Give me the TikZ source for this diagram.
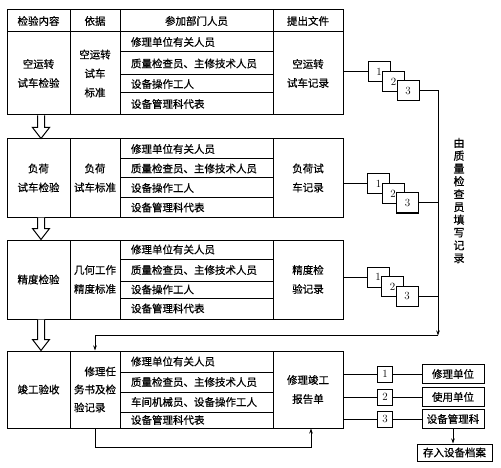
\documentclass[tikz,border=0pt]{standalone}
\usepackage{fontspec}
\newfontfamily\cjk{Noto Sans CJK SC}[FakeBold=0.6]
\usetikzlibrary{calc,arrows.meta}

\tikzset{
  line/.style={line width=1pt},
  cell/.style={draw, line width=1pt, inner sep=0pt, align=center,
    font=\cjk\fontsize{10.5}{19}\selectfont},
  staff/.style={draw, line width=1pt, minimum width=153pt, text width=131pt,
    inner xsep=11pt, inner ysep=0pt, align=left, font=\cjk\fontsize{10.5}{13}\selectfont},
  doc/.style={draw, fill=white, line width=1pt, minimum width=22pt,
    minimum height=20pt, inner sep=0pt, font=\fontsize{11}{13}\selectfont},
  num/.style={draw, line width=1pt, minimum width=15pt, minimum height=16pt,
    inner sep=0pt, font=\fontsize{11}{13}\selectfont},
  dest/.style={draw, line width=1pt, minimum width=62pt, minimum height=19pt,
    inner sep=0pt, font=\cjk\fontsize{10.5}{13}\selectfont},
  note/.style={align=center, inner sep=0pt, font=\cjk\fontsize{11}{12.8}\selectfont},
  >={Stealth[length=5pt,width=3.5pt]}
}

% hollow block arrow from #1 down to the tip #2
\newcommand{\hollowarrow}[2]{%
  \draw[line, fill=white]
    ($([xshift=2.5pt]#1)+(-3.5,0)$) -- ($([xshift=2.5pt]#2)+(-3.5,-11)$)
    -- ($([xshift=2.5pt]#2)+(-8.5,-11)$) -- ([xshift=2.5pt]#2)
    -- ($([xshift=2.5pt]#2)+(8.5,-11)$) -- ($([xshift=2.5pt]#2)+(3.5,-11)$)
    -- ($([xshift=2.5pt]#1)+(3.5,0)$);}

\begin{document}
\begin{tikzpicture}[x=1pt, y=-1pt]
    \useasboundingbox (0,0) rectangle (501,468);

    % Header
    \node[cell, minimum width=63pt, minimum height=22pt] (head1) at (38.5,21) {检验内容};
    \node[cell, minimum width=50pt, minimum height=22pt] (head2) at (95,21) {依据};
    \node[cell, minimum width=153pt, minimum height=22pt] (head3) at (196.5,21) {参加部门人员};
    \node[cell, minimum width=70pt, minimum height=22pt] (head4) at (308,21) {提出文件};

    % Block 1
    \node[cell, minimum width=63pt, minimum height=83pt] (item1) at (38.5,73.5) {空运转\\试车检验};
    \node[cell, minimum width=50pt, minimum height=83pt] (basis1) at (95,73.5) {空运转\\试车\\标准};
    \node[staff, minimum height=20pt] (staff1a) at (196.5,42) {修理单位有关人员};
    \node[staff, minimum height=23pt] (staff1b) at (196.5,63.5) {质量检查员、主修技术人员};
    \node[staff, minimum height=18pt] (staff1c) at (196.5,84) {设备操作工人};
    \node[staff, minimum height=22pt] (staff1d) at (196.5,104) {设备管理科代表};
    \node[cell, minimum width=70pt, minimum height=83pt] (file1) at (308,73.5) {空运转\\试车记录};

    % Block 2
    \node[cell, minimum width=63pt, minimum height=78pt] (item2) at (38.5,178) {负荷\\试车检验};
    \node[cell, minimum width=50pt, minimum height=78pt] (basis2) at (95,178) {负荷\\试车标准};
    \node[staff, minimum height=20pt] (staff2a) at (196.5,149) {修理单位有关人员};
    \node[staff, minimum height=19pt] (staff2b) at (196.5,168.5) {质量检查员、主修技术人员};
    \node[staff, minimum height=20pt] (staff2c) at (196.5,188) {设备操作工人};
    \node[staff, minimum height=19pt] (staff2d) at (196.5,207.5) {设备管理科代表};
    \node[cell, minimum width=70pt, minimum height=78pt] (file2) at (308,178) {负荷试\\车记录};

    % Block 3
    \node[cell, minimum width=63pt, minimum height=79pt] (item3) at (38.5,279.5) {精度检验};
    \node[cell, minimum width=50pt, minimum height=79pt] (basis3) at (95,279.5) {几何工作\\精度标准};
    \node[staff, minimum height=19pt] (staff3a) at (196.5,249.5) {修理单位有关人员};
    \node[staff, minimum height=22pt] (staff3b) at (196.5,270) {质量检查员、主修技术人员};
    \node[staff, minimum height=17pt] (staff3c) at (196.5,289.5) {设备操作工人};
    \node[staff, minimum height=21pt] (staff3d) at (196.5,308.5) {设备管理科代表};
    \node[cell, minimum width=70pt, minimum height=79pt] (file3) at (308,279.5) {精度检\\验记录};

    % Block 4
    \node[cell, minimum width=63pt, minimum height=77pt] (item4) at (38.5,389.5) {竣工验收};
    \node[cell, minimum width=50pt, minimum height=77pt, text width=42pt, align=left,
      font=\cjk\fontsize{10.5}{18}\selectfont] (basis4) at (95,389.5) {\hfill{}修理任\\务书及检\\验记录};
    \node[staff, minimum height=21pt] (staff4a) at (196.5,361.5) {修理单位有关人员};
    \node[staff, minimum height=20pt] (staff4b) at (196.5,382) {质量检查员、主修技术人员};
    \node[staff, minimum height=20pt] (staff4c) at (196.5,402) {车间机械员、设备操作工人};
    \node[staff, minimum height=16pt] (staff4d) at (196.5,420) {设备管理科代表};
    \node[cell, minimum width=70pt, minimum height=77pt] (file4) at (308,389.5) {修理竣工\\报告单};

    % Hollow arrows between blocks
    \hollowarrow{item1.south}{item2.north}
    \hollowarrow{item2.south}{item3.north}
    \hollowarrow{item3.south}{item4.north}

    % Record stacks
    \node[doc] (doc1a) at (379,72) {1};
    \node[doc] (doc1b) at ($(doc1a)+(14.5,9.5)$) {2};
    \node[doc] (doc1c) at ($(doc1b)+(14.5,9.5)$) {3};
    \node[doc] (doc2a) at (378.5,184) {1};
    \node[doc] (doc2b) at ($(doc2a)+(14.5,9.5)$) {2};
    \node[doc] (doc2c) at ($(doc2b)+(14.5,9.5)$) {3};
    \node[doc] (doc3a) at (378,277) {1};
    \node[doc] (doc3b) at ($(doc3a)+(14.5,9.5)$) {2};
    \node[doc] (doc3c) at ($(doc3b)+(14.5,9.5)$) {3};

    \draw[line] (doc1a.west -| file1.east) -- (doc1a.west);
    \draw[line] (doc2a.west -| file2.east) -- (doc2a.west);
    \draw[line] (doc3a.west -| file3.east) -- (doc3a.west);

    % Feedback to final acceptance
    \coordinate (turn) at (438,335.5);
    \draw[line, ->] (doc1c.east) -| (turn);
    \draw[line] (doc2c.east) -- (doc2c.east -| turn);
    \draw[line] (doc3c.east) -- (doc3c.east -| turn);
    \draw[line, ->] (turn) -| (basis4.north);
    \node[note] (remark) at (459,200.5) {由\\质\\量\\检\\查\\员\\填\\写\\记\\录};

    % Loop under block 4
    \draw[line, ->] (basis4.south) -- ++(0,19) -| ([xshift=3pt]file4.south);

    % Distribution of the report
    \node[num] (out1) at (385,374) {1};
    \node[num] (out2) at (385,397) {2};
    \node[num] (out3) at (385,419) {3};
    \node[dest] (dest1) at (453,374) {修理单位};
    \node[dest] (dest2) at (453,397) {使用单位};
    \node[dest] (dest3) at (453,419) {设备管理科};
    \node[dest, minimum width=75pt, minimum height=17pt] (archive) at (454.5,452.5) {存入设备档案};

    \draw[line] (out1.west -| file4.east) -- (out1.west);
    \draw[line] (out2.west -| file4.east) -- (out2.west);
    \draw[line] (out3.west -| file4.east) -- (out3.west);
    \draw[line] (out1.east) -- (dest1.west);
    \draw[line] (out2.east) -- (dest2.west);
    \draw[line] (out3.east) -- (dest3.west);
    \draw[line, ->] (dest3.south) -- (dest3.south |- archive.north);
\end{tikzpicture}
\end{document}
